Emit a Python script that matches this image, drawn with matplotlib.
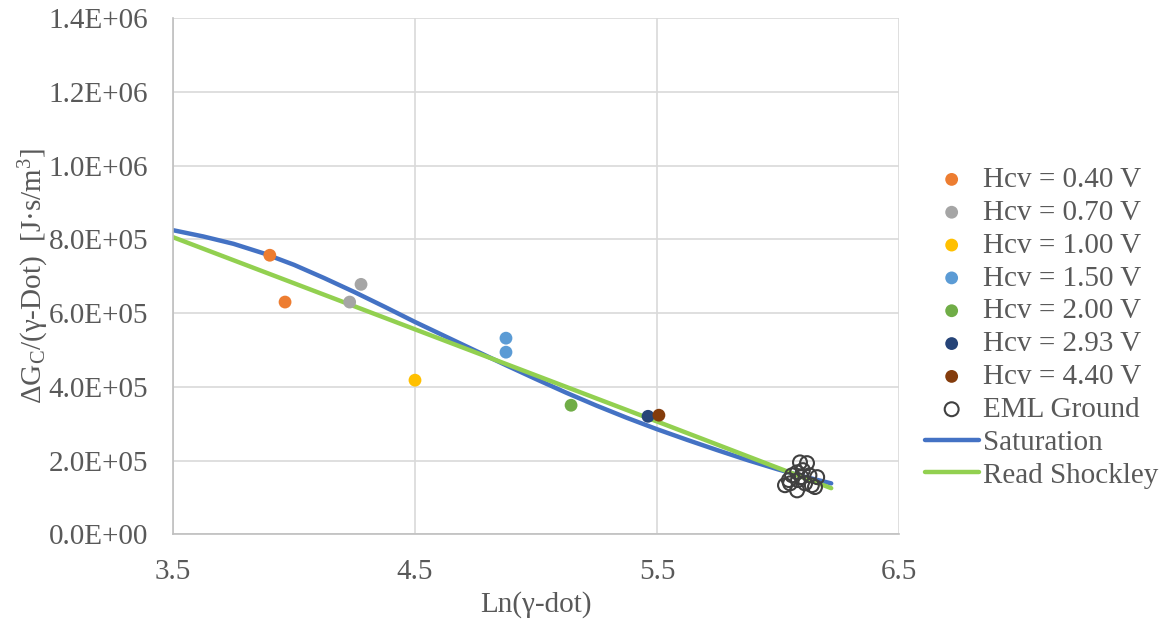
import numpy as np
import matplotlib
matplotlib.use("Agg")
import matplotlib.pyplot as plt
from matplotlib.ticker import FuncFormatter

plt.rcParams['font.family'] = ['Liberation Serif', 'DejaVu Serif']
plt.rcParams['mathtext.fontset'] = 'custom'
plt.rcParams['mathtext.rm'] = 'Liberation Serif'
plt.rcParams['mathtext.it'] = 'Liberation Serif:italic'

# measured groups (Ln(gamma-dot), dG/gamma-dot)
hcv_labels = ["Hcv = 0.40 V", "Hcv = 0.70 V", "Hcv = 1.00 V", "Hcv = 1.50 V",
              "Hcv = 2.00 V", "Hcv = 2.93 V", "Hcv = 4.40 V"]
hcv_x = [[3.90, 3.963], [4.23, 4.277], [4.50], [4.876, 4.876],
         [5.145], [5.463], [5.508]]
hcv_y = [[757e3, 630e3], [630e3, 678e3], [418e3], [532e3, 494e3],
         [350e3], [320e3], [323e3]]
hcv_colors = ["#ED7D31", "#A5A5A5", "#FFC000", "#5B9BD5",
              "#70AD47", "#264478", "#843C0C"]

eml_x = [6.091, 6.120, 6.079, 6.103, 6.058, 6.097, 6.130, 6.162,
         6.029, 6.050, 6.079, 6.112, 6.140, 6.153, 6.045, 6.083]
eml_y = [195e3, 193e3, 168e3, 174e3, 160e3, 155e3, 160e3, 155e3,
         133e3, 138e3, 119e3, 138e3, 133e3, 128e3, 147e3, 147e3]

# fitted curves
sat_x = [3.5, 3.625, 3.75, 3.875, 4.0, 4.125, 4.25, 4.375, 4.5, 4.625, 4.75,
         4.875, 5.0, 5.125, 5.25, 5.375, 5.5, 5.625, 5.75, 5.875, 6.0, 6.11, 6.22]
sat_y = [825e3, 808e3, 788e3, 762e3, 731e3, 695e3, 657e3, 617e3, 576e3, 537e3, 498e3,
         459e3, 421e3, 384e3, 349e3, 316e3, 285e3, 256e3, 228e3, 201e3, 176e3, 156e3, 138e3]
rs_x = [3.5, 4.0, 4.5, 5.0, 5.5, 6.0, 6.22]
rs_y = [806e3, 681e3, 556e3, 431e3, 306e3, 180e3, 125e3]

text_color = "#595959"
fs = 21

fig = plt.figure(figsize=(11.69, 6.30), dpi=100)
ax = fig.add_axes([0.148, 0.152, 0.621, 0.819])

for lab, xs, ys, c in zip(hcv_labels, hcv_x, hcv_y, hcv_colors):
    ax.scatter(xs, ys, s=85, color=c, edgecolors='none', label=lab, zorder=3)
ax.scatter(eml_x, eml_y, s=100, facecolors='none', edgecolors='#404040',
           linewidths=1.5, label="EML Ground", zorder=4)
ax.plot(sat_x, sat_y, color="#4472C4", lw=3.2, label="Saturation", zorder=2,
        solid_capstyle='round', solid_joinstyle='round')
ax.plot(rs_x, rs_y, color="#92D050", lw=3.2, label="Read Shockley", zorder=2,
        solid_capstyle='round', solid_joinstyle='round')

ax.set_xlim(3.5, 6.5)
ax.set_ylim(0, 1.4e6)
ax.set_xticks([3.5, 4.5, 5.5, 6.5])
ax.set_yticks(np.arange(0, 1.41e6, 2e5))
ax.yaxis.set_major_formatter(FuncFormatter(lambda v, p: f"{v:.1E}"))
ax.grid(True, color="#D9D9D9", lw=1.2)
ax.set_axisbelow(True)
for s in ['top', 'right']:
    ax.spines[s].set_visible(False)
for s in ['left', 'bottom']:
    ax.spines[s].set_color("#BFBFBF")
    ax.spines[s].set_linewidth(1.2)
ax.tick_params(length=0, labelsize=fs, colors=text_color, pad=18)

ax.set_xlabel("Ln(γ-dot)", fontsize=fs, color=text_color, labelpad=4)
ax.set_ylabel(r"$\Delta$G$_\mathrm{C}$/(γ-Dot)  [J·s/m$^\mathrm{3}$]",
              fontsize=fs, color=text_color, labelpad=-2)

leg = ax.legend(loc='center left', bbox_to_anchor=(0.791, 0.48),
                bbox_transform=fig.transFigure, frameon=False, fontsize=fs,
                handlelength=1.85, handletextpad=0.15, labelspacing=0.22,
                borderaxespad=0, borderpad=0)
for t in leg.get_texts():
    t.set_color(text_color)

fig.savefig("out.png", dpi=100)
